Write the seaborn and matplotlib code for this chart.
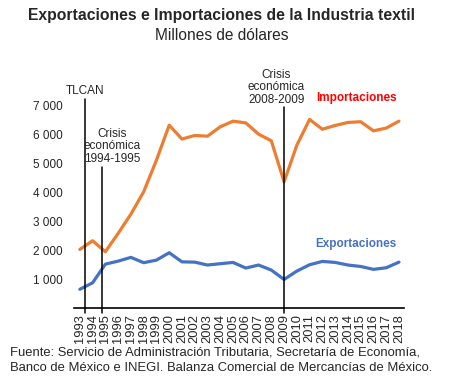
import numpy as np
import pandas as pd
import seaborn as sns
import matplotlib.pyplot as plt

years = list(range(1993, 2019))

importaciones = [2030, 2330, 1950, 2585, 3250, 4025, 5120, 6330, 5850, 5975,
                 5950, 6275, 6470, 6410, 6020, 5790, 4370, 5640, 6530, 6190,
                 6320, 6425, 6450, 6135, 6230, 6470]

exportaciones = [650, 875, 1520, 1625, 1755, 1570, 1660, 1915, 1600, 1590,
                 1490, 1535, 1580, 1385, 1490, 1315, 990, 1280, 1500, 1615,
                 1580, 1490, 1440, 1340, 1395, 1590]

events = ["TLCAN", "Crisis\neconómica\n1994-1995", "Crisis\neconómica\n2008-2009"]
event_x = [1993.4, 1994.75, 2009.0]
event_top = [7250, 4900, 6950]

yticks = [1000, 2000, 3000, 4000, 5000, 6000, 7000]

sns.set_style("white")
plt.rcParams['font.family'] = ['Liberation Sans', 'DejaVu Sans']

df = pd.DataFrame({"year": years + years,
                   "value": importaciones + exportaciones,
                   "serie": ["Importaciones"] * len(years) + ["Exportaciones"] * len(years)})

fig = plt.figure(figsize=(4.53, 3.78), dpi=100)
ax = fig.add_axes([0.163, 0.185, 0.729, 0.535])

sns.lineplot(data=df, x="year", y="value", hue="serie",
             palette={"Importaciones": "#ED7D31", "Exportaciones": "#4472C4"},
             linewidth=2.3, legend=False, ax=ax)

ax.set_xlim(1992.53, 2018.4)
ax.set_ylim(0, 7000)
ax.set_yticks(yticks)
ax.set_yticklabels([f"{v:,}".replace(",", " ") for v in yticks], fontsize=8.5)
ax.set_xticks(years)
ax.set_xticklabels([str(y) for y in years], rotation=90, fontsize=9.3)
ax.tick_params(axis="y", length=0, pad=8)
ax.tick_params(axis="x", length=0, pad=4)
ax.set_xlabel("")
ax.set_ylabel("")

sns.despine(ax=ax, left=True)
ax.spines["bottom"].set_color("black")
ax.spines["bottom"].set_linewidth(1.2)

# vertical event lines with their labels
offsets = [0.0, 0.8, -0.6]
for name, xv, top, dx in zip(events, event_x, event_top, offsets):
    ax.plot([xv, xv], [-180, top], color="black", linewidth=1.1, clip_on=False)
    ax.text(xv + dx, top + 60, name,
            ha="center", va="bottom", fontsize=8.5, linespacing=1.05)

ax.text(2014.7, 7270, "Importaciones", color="#FF0000", fontsize=8.5,
        fontweight="bold", ha="center", va="center")
ax.text(2014.6, 2230, "Exportaciones", color="#4472C4", fontsize=8.5,
        fontweight="bold", ha="center", va="center")

fig.text(0.49, 0.958, "Exportaciones e Importaciones de la Industria textil",
         ha="center", va="center", fontsize=11.3, fontweight="bold")
fig.text(0.49, 0.905, "Millones de dólares", ha="center", va="center", fontsize=11.2)

fig.text(0.022, 0.047,
         "Fuente: Servicio de Administración Tributaria, Secretaría de Economía,\n"
         "Banco de México e INEGI. Balanza Comercial de Mercancías de México.",
         ha="left", va="center", fontsize=9.4, linespacing=1.3)

fig.savefig("out.png", dpi=100)
